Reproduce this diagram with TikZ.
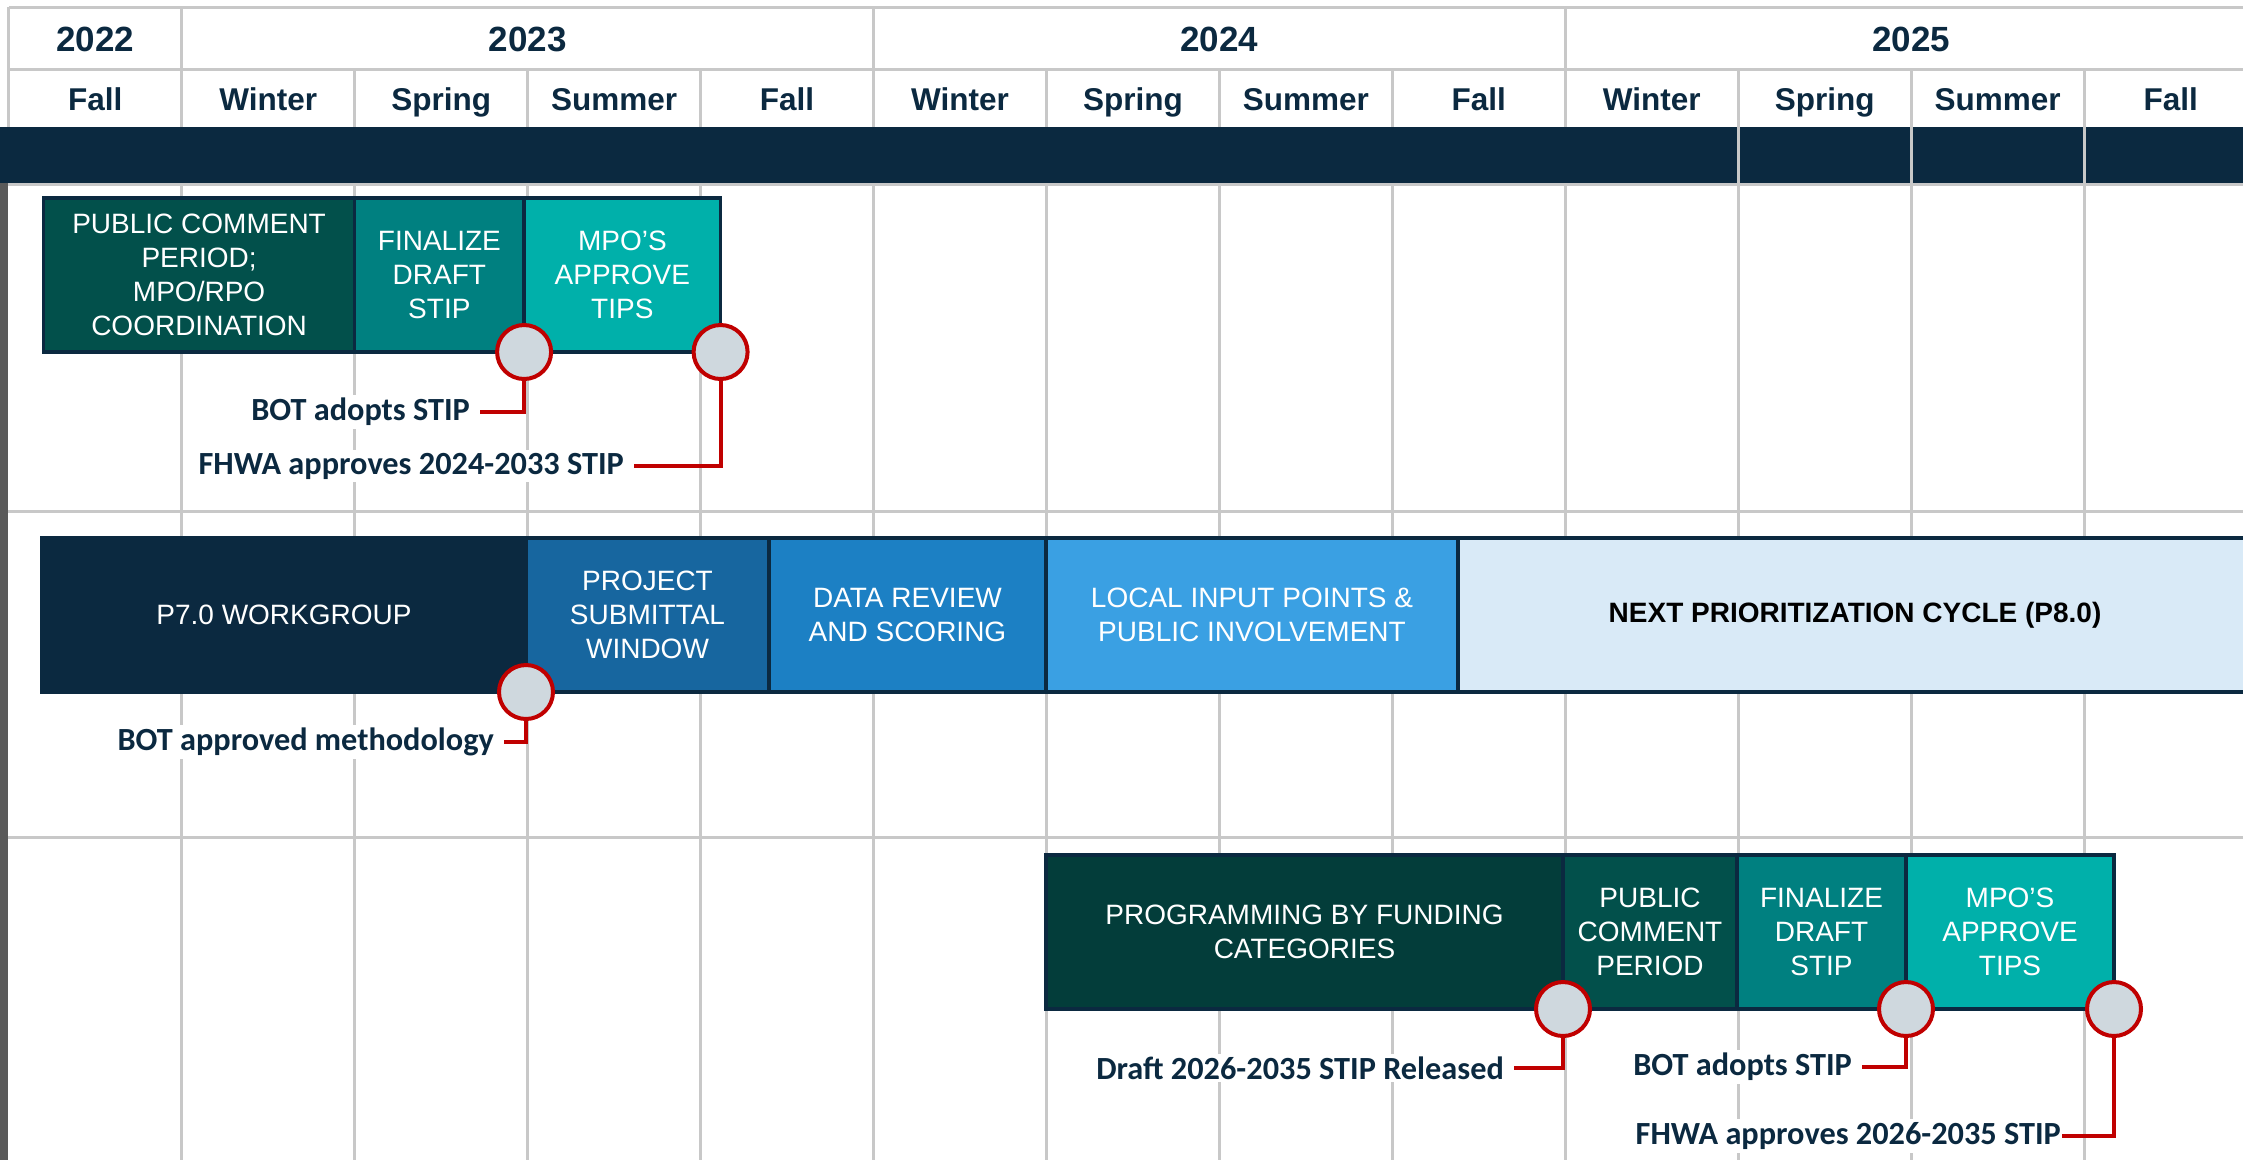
\documentclass[tikz,border=0pt]{standalone}
\usepackage{fontspec}
\setmainfont{Liberation Sans}
\newfontfamily\lblfont{Carlito}
\usetikzlibrary{positioning}
\definecolor{navy}{HTML}{0B2940}
\definecolor{tealxd}{HTML}{033D3A}
\definecolor{tealdk}{HTML}{02504B}
\definecolor{tealmd}{HTML}{008080}
\definecolor{teallt}{HTML}{00B0AA}
\definecolor{blued}{HTML}{17669F}
\definecolor{bluem}{HTML}{1C80C4}
\definecolor{bluel}{HTML}{3AA0E3}
\definecolor{bluep}{HTML}{D9EAF7}
\definecolor{milered}{HTML}{C00000}
\definecolor{milegrey}{HTML}{CFD8DE}
\definecolor{gridgrey}{HTML}{C8C8C8}
\definecolor{leftgrey}{HTML}{5A5A5A}
\tikzset{grid/.style = {draw=gridgrey, line width=3pt}}
\tikzset{bar/.style = {draw=navy, line width=3.5pt, outer sep=0pt, inner sep=0pt,
                       minimum height=154pt, align=center, text=white,
                       font=\fontsize{28}{34}\selectfont}}
\tikzset{mile/.style = {circle, draw=milered, fill=milegrey, line width=4pt,
                        minimum size=54pt, inner sep=0pt, outer sep=0pt}}
\tikzset{lead/.style = {draw=milered, line width=4pt}}
\tikzset{lbl/.style = {fill=white, text=navy, anchor=east, inner xsep=10pt, inner ysep=3pt,
                       font=\lblfont\bfseries\fontsize{32.3}{37}\selectfont}}
\tikzset{yearlbl/.style = {text=navy, anchor=base, font=\bfseries\fontsize{35}{40}\selectfont}}
\tikzset{seasonlbl/.style = {text=navy, anchor=base, font=\bfseries\fontsize{31.5}{36}\selectfont}}
\newcommand{\colx}[1]{(8.75+172.95*(#1))}

\begin{document}
\begin{tikzpicture}[x=1pt, y=-1pt]
      \useasboundingbox (0,0) rectangle (2243,1160);
      \clip (0,0) rectangle (2243,1160);

      % Header grid
      \draw[grid] (8.75,7) -- (2243,7);
      \draw[grid] (8.75,69) -- (2243,69);
      \draw[grid] (8.75,7) -- (8.75,127);
      \foreach \k in {1,5,9} \draw[grid] ({\colx{\k}},7) -- ({\colx{\k}},69);
      \foreach \k in {1,...,12} \draw[grid] ({\colx{\k}},69) -- ({\colx{\k}},127);

      % Years and seasons
      \node[yearlbl] (y2022) at ({\colx{0.5}},51.5) {2022};
      \node[yearlbl] (y2023) at ({\colx{3}},51.5) {2023};
      \node[yearlbl] (y2024) at ({\colx{7}},51.5) {2024};
      \node[yearlbl] (y2025) at ({\colx{11}},51.5) {2025};
      \foreach \s [count=\i from 0] in {Fall,Winter,Spring,Summer,Fall,Winter,Spring,Summer,Fall,Winter,Spring,Summer,Fall}
        \node[seasonlbl] (s\i) at ({\colx{\i+0.5}},110) {\s};

      % Dark band
      \fill[navy] (0,127) rectangle (2243,183);
      \foreach \k in {10,11,12} \draw[grid] ({\colx{\k}},127) -- ({\colx{\k}},183);

      % Body grid
      \foreach \k in {1,...,12} \draw[grid] ({\colx{\k}},183) -- ({\colx{\k}},1160);
      \foreach \y in {184,511,837} \draw[grid] (8,\y) -- (2243,\y);
      \fill[leftgrey] (0,183) rectangle (8,1160);

      % STIP 2024-2033
      \node[bar, fill=tealdk, minimum width=311pt, anchor=north west] (pc1) at (43.6,198)
        {PUBLIC COMMENT\\PERIOD;\\MPO/RPO\\COORDINATION};
      \node[bar, fill=tealmd, minimum width=169.5pt, right=0pt of pc1] (fin1) {FINALIZE\\DRAFT\\STIP};
      \node[bar, fill=teallt, minimum width=196.5pt, right=0pt of fin1] (mpo1) {MPO’S\\APPROVE\\TIPS};
      \node[mile] (mb1) at (fin1.south east) {};
      \node[mile] (mf1) at (mpo1.south east) {};
      \node[lbl] (bot1) at (480,412) {BOT adopts STIP};
      \node[lbl] (fhwa1) at (634,466) {FHWA approves 2024-2033 STIP};
      \draw[lead] (mb1.south) |- (bot1.east);
      \draw[lead] (mf1.south) |- (fhwa1.east);

      % Prioritization
      \node[bar, fill=navy, minimum width=484pt, anchor=north west] (p7) at (42,538) {\raisebox{-3pt}{P7.0 WORKGROUP}};
      \node[bar, fill=blued, minimum width=243pt, right=0pt of p7] (sub) {PROJECT\\SUBMITTAL\\WINDOW};
      \node[bar, fill=bluem, minimum width=277pt, right=0pt of sub] (data) {DATA REVIEW\\AND SCORING};
      \node[bar, fill=bluel, minimum width=412pt, right=0pt of data] (local) {LOCAL INPUT POINTS \&\\PUBLIC INVOLVEMENT};
      \node[bar, fill=bluep, text=black, minimum width=900pt, right=0pt of local,
            font=\bfseries\fontsize{28}{34}\selectfont] (next) {\hspace{-106pt}\raisebox{-3pt}{NEXT PRIORITIZATION CYCLE (P8.0)}};
      \node[mile] (mm) at (p7.south east) {};
      \node[lbl] (meth) at (504,742) {BOT approved methodology};
      \draw[lead] (mm.south) |- (meth.east);

      % STIP 2026-2035
      \node[bar, fill=tealxd, minimum width=517pt, anchor=north west] (prog) at (1046,855)
        {PROGRAMMING BY FUNDING\\CATEGORIES};
      \node[bar, fill=tealdk, minimum width=174pt, right=0pt of prog] (pc3) {PUBLIC\\COMMENT\\PERIOD};
      \node[bar, fill=tealmd, minimum width=169pt, right=0pt of pc3] (fin3) {FINALIZE\\DRAFT\\STIP};
      \node[bar, fill=teallt, minimum width=208pt, right=0pt of fin3] (mpo3) {MPO’S\\APPROVE\\TIPS};
      \node[mile] (md3) at (prog.south east) {};
      \node[mile] (mb3) at (fin3.south east) {};
      \node[mile] (mf3) at (mpo3.south east) {};
      \node[lbl] (draft3) at (1514,1068) {Draft 2026-2035 STIP Released};
      \node[lbl] (bot3) at (1862,1067) {BOT adopts STIP};
      \node[lbl, inner xsep=1pt] (fhwa3) at (2062,1136) {FHWA approves 2026-2035 STIP};
      \draw[lead] (md3.south) |- (draft3.east);
      \draw[lead] (mb3.south) |- (bot3.east);
      \draw[lead] (mf3.south) |- (fhwa3.east);
\end{tikzpicture}
\end{document}
